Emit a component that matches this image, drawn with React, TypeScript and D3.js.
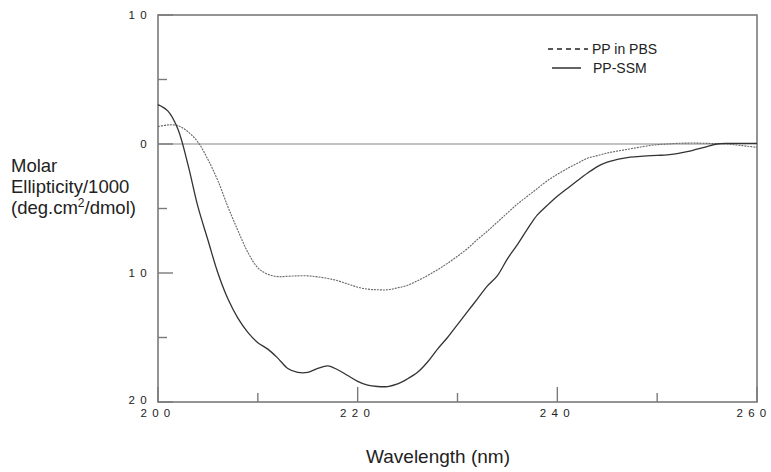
import React from "react";
import * as d3 from "d3";

const wavelengths = d3.range(200, 261);
const ppSSM = [
  3.05, 2.55, 1.15, -1.6, -4.86, -7.44, -10.0, -12.0, -13.5, -14.6,
  -15.4, -15.9, -16.6, -17.4, -17.7, -17.7, -17.4, -17.2, -17.5, -17.95,
  -18.4, -18.7, -18.8, -18.8, -18.6, -18.2, -17.7, -16.9, -15.9, -15.0,
  -14.0, -13.0, -12.0, -11.0, -10.2, -8.9, -7.8, -6.6, -5.5, -4.75,
  -4.05, -3.45, -2.85, -2.27, -1.75, -1.4, -1.2, -1.05, -0.98, -0.92,
  -0.88, -0.85, -0.75, -0.6, -0.4, -0.2, 0.0, 0.05, 0.05, 0.05, 0.05,
];
const ppPBS = [
  1.34, 1.48, 1.42, 0.95, 0.15, -1.2, -2.85, -4.86, -6.7, -8.4,
  -9.6, -10.1, -10.28, -10.25, -10.22, -10.22, -10.3, -10.42, -10.6, -10.85,
  -11.1, -11.25, -11.3, -11.3, -11.15, -10.95, -10.6, -10.2, -9.75, -9.25,
  -8.7, -8.1, -7.4, -6.75, -6.05, -5.35, -4.65, -4.05, -3.45, -2.85,
  -2.35, -1.9, -1.5, -1.11, -0.9, -0.7, -0.55, -0.42, -0.28, -0.15,
  -0.05, 0.0, 0.05, 0.07, 0.07, 0.05, 0.02, 0.0, -0.08, -0.17, -0.26,
];
const xMajorTicks = [200, 220, 240, 260];
const xMinorTicks = [210, 230, 250];
const xTickLabels = ["200", "220", "240", "260"];
const yMajorTicks = [10, 0, -10, -20];
const yMinorTicks = [5, -5, -15];
const yTickLabels = ["10", "0", "10", "20"];
const seriesNames = ["PP in PBS", "PP-SSM"];

const W = 771;
const H = 472;
const FONT = "'Liberation Sans', Arial, Helvetica, sans-serif";

export default function App() {
  const x = d3.scaleLinear().domain([200, 260]).range([158, 757]);
  const y = d3.scaleLinear().domain([-20, 10]).range([402, 15]);
  const line = d3
    .line<number>()
    .x((_, i) => x(wavelengths[i]))
    .y((d) => y(d))
    .curve(d3.curveCatmullRom.alpha(0.5));
  const axisColor = "#7a7a7a";

  return (
    <svg
      width={W}
      height={H}
      style={{ position: "absolute", left: 0, top: 0, background: "#fff" }}
      fontFamily={FONT}
    >
      <rect x={0} y={0} width={W} height={H} fill="#fff" />
      {/* zero line */}
      <line x1={x(200)} x2={x(260)} y1={y(0)} y2={y(0)} stroke="#888" strokeWidth={1.2} />
      {/* frame */}
      <rect
        x={x(200)}
        y={y(10)}
        width={x(260) - x(200)}
        height={y(-20) - y(10)}
        fill="none"
        stroke={axisColor}
        strokeWidth={1.6}
      />
      {/* y ticks */}
      {yMajorTicks.map((t) => (
        <line key={"ym" + t} x1={x(200)} x2={x(200) + 15} y1={y(t)} y2={y(t)} stroke={axisColor} strokeWidth={1.4} />
      ))}
      {yMinorTicks.map((t) => (
        <line key={"yn" + t} x1={x(200)} x2={x(200) + 9} y1={y(t)} y2={y(t)} stroke={axisColor} strokeWidth={1.4} />
      ))}
      {/* x ticks */}
      {xMajorTicks.map((t) => (
        <line key={"xm" + t} x1={x(t)} x2={x(t)} y1={y(-20)} y2={y(-20) - 15} stroke={axisColor} strokeWidth={1.4} />
      ))}
      {xMinorTicks.map((t) => (
        <line key={"xn" + t} x1={x(t)} x2={x(t)} y1={y(-20)} y2={y(-20) - 9} stroke={axisColor} strokeWidth={1.4} />
      ))}
      {/* y tick labels */}
      {yMajorTicks.map((t, i) => (
        <text
          key={"yl" + t}
          x={152}
          y={i === yMajorTicks.length - 1 ? y(t) - 2 : y(t)}
          dy="0.35em"
          textAnchor="end"
          fontSize={11.5}
          letterSpacing={5.3}
          fill="#222"
        >
          {yTickLabels[i]}
        </text>
      ))}
      {/* x tick labels */}
      {xMajorTicks.map((t, i) => (
        <text
          key={"xl" + t}
          x={i === xMajorTicks.length - 1 ? x(t) - 3 : x(t)}
          y={416.5}
          textAnchor="middle"
          fontSize={11.5}
          letterSpacing={5.3}
          fill="#222"
        >
          {xTickLabels[i]}
        </text>
      ))}
      {/* curves */}
      <path d={line(ppPBS) || ""} fill="none" stroke="#666" strokeWidth={1.1} strokeDasharray="2,1" />
      <path d={line(ppSSM) || ""} fill="none" stroke="#333" strokeWidth={1.3} />
      {/* legend */}
      <line x1={548} x2={588} y1={49} y2={49} stroke="#222" strokeWidth={1.4} strokeDasharray="5,4" />
      <text x={592} y={54} fontSize={14} fill="#222">{seriesNames[0]}</text>
      <line x1={552} x2={581} y1={68} y2={68} stroke="#222" strokeWidth={1.4} />
      <text x={593} y={73} fontSize={14} fill="#222">{seriesNames[1]}</text>
      {/* axis titles */}
      <text x={438} y={463} textAnchor="middle" fontSize={19} fill="#222">
        Wavelength (nm)
      </text>
      <text x={11} fontSize={18.5} fill="#222">
        <tspan x={11} y={172}>Molar</tspan>
        <tspan x={11} y={193}>Ellipticity/1000</tspan>
        <tspan x={11} y={214}>(deg.cm</tspan>
        <tspan dy={-7} fontSize={12}>2</tspan>
        <tspan dy={7}>/dmol)</tspan>
      </text>
    </svg>
  );
}
